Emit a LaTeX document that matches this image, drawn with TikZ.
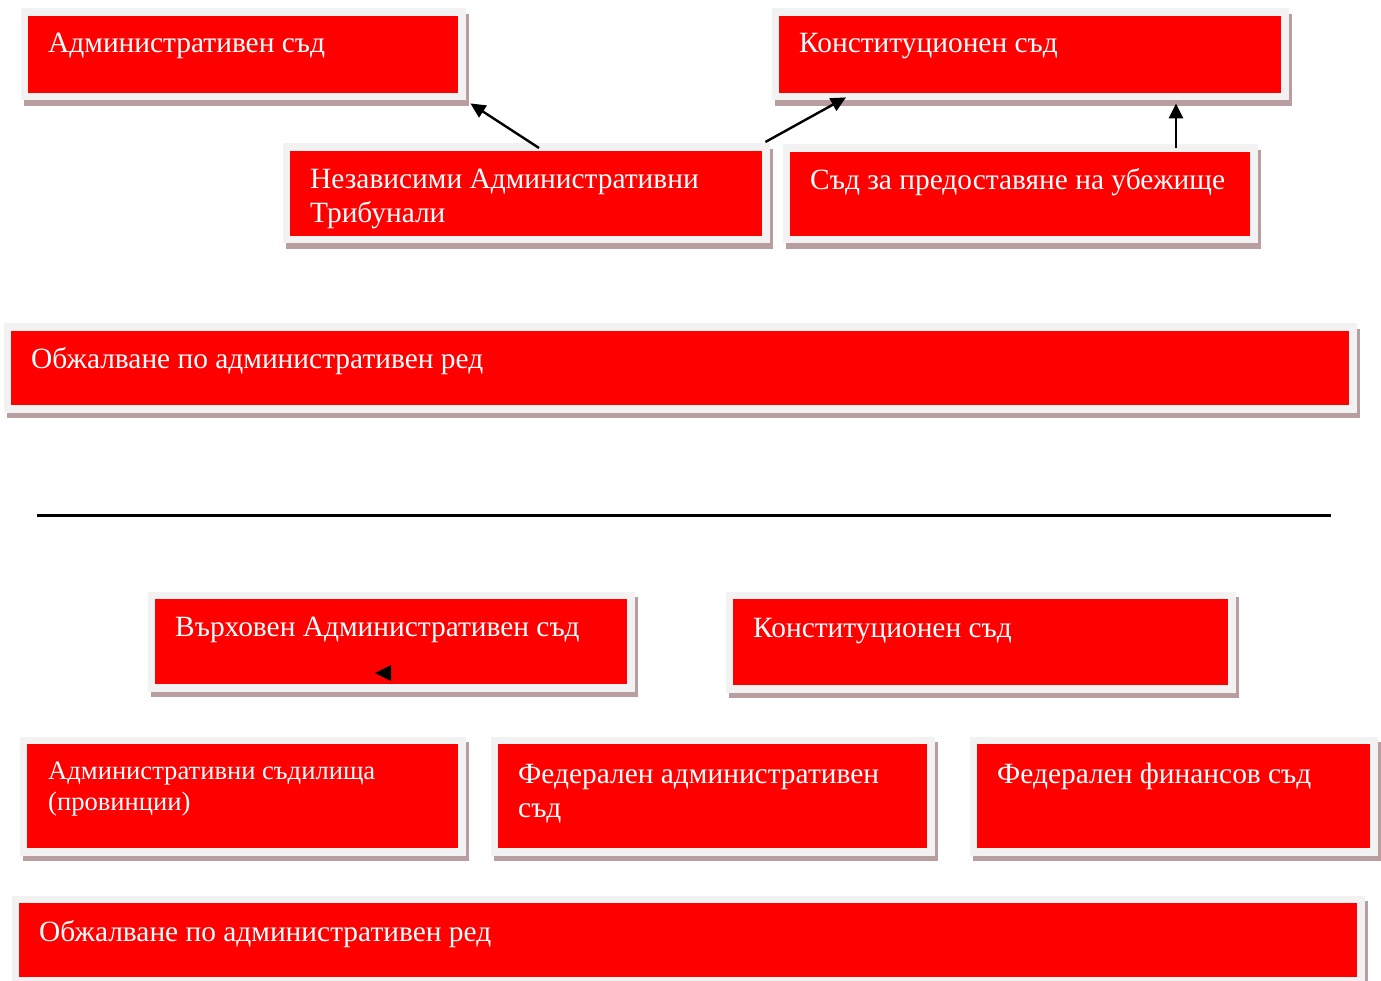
\documentclass[tikz,border=0pt]{standalone}
\usepackage{fontspec}
\setmainfont{Liberation Serif}
\usetikzlibrary{arrows.meta,calc}
\definecolor{framec}{RGB}{242,242,242}
\definecolor{shadowc}{RGB}{184,158,158}
\definecolor{boxred}{RGB}{255,0,0}
\tikzset{
  redrect/.style={fill=boxred, draw=none, inner sep=0pt, anchor=north west},
  lbl/.style={text=white, inner sep=0pt, anchor=base west, font=\fontsize{29.4}{34}\selectfont},
  lblsmall/.style={lbl, font=\fontsize{26.6}{31}\selectfont},
  conn/.style={line width=2.4pt, -{Triangle[length=15pt,width=14pt]}},
}
\newcommand\mkbox[5]{%
  \fill[shadowc] (#2-7.5+3,#3-7.5+5.5) rectangle (#4+7.5+3,#5+7.5+5.5);
  \fill[framec] (#2-7.5,#3-7.5) rectangle (#4+7.5,#5+7.5);
  \node[redrect, minimum width={#4pt-#2pt}, minimum height={#5pt-#3pt}] (#1) at (#2,#3) {};
}
\begin{document}
\begin{tikzpicture}[x=1pt,y=-1pt]
\useasboundingbox[fill=white] (0,0) rectangle (1381,981);
% top part
\mkbox{adm}{28}{16}{458}{93}
\mkbox{konstA}{779}{16}{1281}{93}
\mkbox{nez}{290}{151}{762}{236}
\mkbox{sub}{790}{152}{1250}{236}
\mkbox{obzA}{11}{331}{1349}{405}
\node[lbl] (admT) at (48,53) {Административен съд};
\node[lbl] (konstAT) at (799,53) {Конституционен съд};
\node[lbl] (nezT) at (310,189) {\begin{tabular}[t]{@{}l@{}}Независими Административни\\Трибунали\end{tabular}};
\node[lbl] (subT) at (810,190) {Съд за предоставяне на убежище};
\node[lbl] (obzAT) at (31,369) {Обжалване по административен ред};
\draw[conn] ([shift={(249,-3)}]nez.north west) -- ([shift={(12,10)}]adm.south east);
\draw[conn] ([shift={(3,-9)}]nez.north east) -- ([shift={(67,4)}]konstA.south west);
\draw[conn] ([shift={(386,-4)}]sub.north west) -- ([shift={(397,10)}]konstA.south west);
% separator
\coordinate (sepL) at (37,515);
\coordinate (sepR) at (1331,515);
\draw[line width=3pt] (sepL) -- (sepR);
% bottom part
\mkbox{vas}{155}{599}{627}{684}
\mkbox{konstB}{733}{599}{1228}{685}
\mkbox{prov}{27}{744}{458}{848}
\mkbox{fedA}{498}{744}{927}{848}
\mkbox{fedF}{977}{744}{1370}{848}
\mkbox{obzB}{19}{903}{1357}{977}
\node[lbl] (vasT) at (175,636) {Върховен Административен съд};
\fill[black] (375,673) -- (391,665) -- (391,681) -- cycle;
\node[lbl] (konstBT) at (753,637) {Конституционен съд};
\node[lblsmall] (provT) at (48,779) {\begin{tabular}[t]{@{}l@{}}Административни съдилища\\(провинции)\end{tabular}};
\node[lbl] (fedAT) at (518,783) {\begin{tabular}[t]{@{}l@{}}Федерален административен\\съд\end{tabular}};
\node[lbl] (fedFT) at (997,783) {Федерален финансов съд};
\node[lbl] (obzBT) at (39,941) {Обжалване по административен ред};
\end{tikzpicture}
\end{document}
